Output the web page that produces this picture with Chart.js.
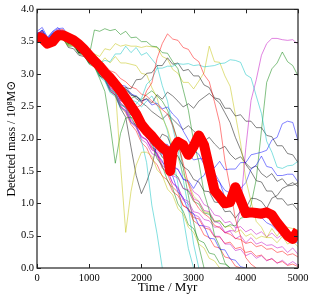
<!DOCTYPE html>
<html>
<head>
<meta charset="utf-8">
<script src="https://cdn.jsdelivr.net/npm/chart.js@4.4.1/dist/chart.umd.min.js"></script>
<style>
  html, body { margin: 0; padding: 0; background: #fff; }
</style>
</head>
<body>
<canvas id="massChart" width="314" height="300"></canvas>
<script>
// time grid (Myr) shared by the thin runs
const times = [0,100,200,300,400,500,600,700,800,900,1000,
  1100,1200,1300,1400,1500,1600,1700,1800,1900,2000,
  2100,2200,2300,2400,2500,2600,2700,2800,2900,3000,
  3100,3200,3300,3400,3500,3600,3700,3800,3900,4000,
  4100,4200,4300,4400,4500,4600,4700,4800,4900,5000];

// thick red mean line
const redTimes = [0,100,200,300,400,500,600,700,800,900,1000,
  1100,1200,1300,1400,1500,1600,1700,1800,1900,2000,
  2100,2200,2300,2400,2500,2550,2600,2700,2800,2900,3000,
  3100,3200,3300,3400,3500,3600,3700,3800,3900,4000,
  4100,4200,4300,4400,4500,4600,4700,4800,4900,5000];
const redMass = [3.58,3.55,3.47,3.50,3.60,3.60,3.56,3.52,3.46,3.38,3.29,
  3.20,3.12,3.02,2.94,2.84,2.74,2.62,2.50,2.38,2.22,
  2.12,2.04,1.94,1.86,1.80,1.50,1.82,1.95,1.90,1.75,1.88,
  2.05,1.90,1.55,1.20,1.10,1.00,1.02,1.25,1.05,0.85,
  0.86,0.85,0.84,0.86,0.82,0.70,0.60,0.50,0.45,0.58];

// individual runs (10^8 Msun), one value per entry of times
const runB1 = [3.62,3.68,3.55,3.66,3.72,3.63,3.62,3.52,3.53,3.39,3.36,
  3.19,3.17,3.01,2.99,2.82,2.78,2.58,2.51,2.29,2.23,
  2.01,1.96,1.74,1.66,1.46,1.42,1.18,1.09,0.88,0.84,
  0.66,0.65,0.46,0.45,0.29,0.28,0.14,0.12,0.02,0.00,
  null,null,null,null,null,null,null,null,null,null];
const runG1 = [3.55,3.62,3.47,3.55,3.60,3.61,3.47,3.46,3.37,3.36,3.28,
  3.68,3.66,3.70,3.67,3.69,3.61,3.66,3.56,3.57,3.50,
  3.50,3.43,3.42,3.33,3.32,3.19,3.08,2.76,2.44,1.96,
  1.64,1.16,0.89,0.51,0.33,0.08,0.00,null,null,null,
  null,null,null,null,null,null,null,null,null,null];
const runR1 = [3.60,3.66,3.52,3.61,3.66,3.64,3.52,3.50,3.39,3.37,3.21,
  3.17,3.02,2.98,2.82,2.77,2.59,2.53,2.37,2.48,2.52,
  2.74,2.86,3.24,3.47,3.62,3.54,3.52,3.41,3.38,3.25,
  3.19,2.99,2.88,2.57,2.24,1.66,1.24,0.76,0.49,0.16,
  0.06,0.00,null,null,null,null,null,null,null,null];
const runC1 = [3.58,3.64,3.49,3.59,3.62,3.62,3.49,3.48,3.35,3.33,3.19,
  3.15,2.99,2.93,2.75,2.71,2.52,2.48,2.37,2.54,2.62,
  2.84,2.92,3.09,3.09,3.12,3.12,3.16,3.15,3.16,3.13,
  3.14,3.11,3.12,3.13,3.16,3.17,3.22,3.21,3.18,2.99,
  2.94,2.66,2.39,1.96,1.79,1.56,1.54,1.58,1.59,1.65];
const runM1 = [3.56,3.62,3.47,3.58,3.64,3.66,3.55,3.53,3.41,3.39,3.23,
  3.19,3.03,2.97,2.79,2.73,2.55,2.47,2.27,2.19,2.02,
  1.98,1.83,1.79,1.63,1.58,1.43,1.39,1.23,1.21,1.07,
  1.03,0.89,0.87,0.72,0.69,0.55,0.58,0.57,0.94,1.86,
  2.59,2.91,3.29,3.47,3.55,3.55,3.53,3.52,3.53,3.46];
const runY1 = [3.52,3.58,3.43,3.53,3.58,3.59,3.47,3.48,3.37,3.35,3.19,
  3.15,2.99,2.95,2.81,2.79,1.60,0.55,1.18,1.59,1.79,
  1.79,1.73,1.52,1.43,1.22,1.13,0.92,0.83,0.63,0.55,
  0.37,0.31,0.15,0.11,0.00,null,null,null,null,null,
  null,null,null,null,null,null,null,null,null,null];
const runK1 = [3.60,3.60,3.47,3.57,3.60,3.61,3.49,3.47,3.33,3.33,3.19,
  3.17,3.03,3.01,2.89,2.89,2.77,2.79,2.77,2.91,2.92,
  3.01,3.02,3.13,3.13,3.25,3.15,3.17,3.05,3.07,2.97,
  2.97,2.83,2.79,2.63,2.61,2.47,2.47,2.35,2.37,2.27,
  2.27,2.17,2.17,2.05,2.03,1.89,1.89,1.77,1.75,1.63];
const runB2 = [3.64,3.64,3.51,3.63,3.64,3.65,3.53,3.53,3.39,3.37,3.23,
  3.21,3.05,3.01,2.83,2.77,2.59,2.55,2.37,2.33,2.19,
  2.18,2.05,2.03,1.92,1.91,1.79,1.89,1.77,1.77,1.67,
  1.69,1.69,1.68,1.55,1.65,1.52,1.53,1.53,1.63,1.63,
  1.75,1.77,1.79,1.82,1.98,2.02,2.23,2.27,2.25,1.97];
const runG2 = [3.50,3.56,3.41,3.51,3.54,3.55,3.43,3.43,3.31,3.29,3.15,
  3.11,2.93,2.73,2.22,1.62,2.08,2.32,2.33,2.19,2.15,
  2.02,1.93,1.69,1.58,1.35,1.23,0.99,0.88,0.67,0.61,
  0.43,0.39,0.23,0.21,0.07,0.06,0.00,null,null,null,
  null,null,null,null,null,null,null,null,null,null];
const runR2 = [3.56,3.62,3.49,3.59,3.62,3.65,3.51,3.51,3.39,3.37,3.27,
  3.25,3.15,3.13,3.05,3.02,2.93,2.88,2.80,2.77,2.69,
  2.66,2.58,2.52,2.45,2.38,2.20,1.95,1.62,1.30,1.05,
  0.92,0.84,0.78,0.66,0.62,0.55,0.52,0.46,0.44,0.38,
  0.40,0.33,0.35,0.29,0.30,0.24,0.26,0.20,0.22,0.17];
const runC2 = [3.54,3.60,3.45,3.55,3.60,3.61,3.49,3.49,3.35,3.33,3.17,
  3.13,2.95,2.89,2.71,2.65,2.47,2.43,2.25,2.21,1.97,
  1.63,0.97,0.53,0.00,null,null,null,null,null,null,
  null,null,null,null,null,null,null,null,null,null,
  null,null,null,null,null,null,null,null,null,null];
const runM2 = [3.60,3.64,3.51,3.61,3.62,3.63,3.51,3.51,3.37,3.35,3.21,
  3.17,3.01,2.95,2.77,2.69,2.51,2.43,2.25,2.17,1.99,
  1.93,1.77,1.73,1.55,1.49,1.31,1.25,1.07,1.03,0.87,
  0.85,0.75,0.73,0.63,0.64,0.54,0.57,0.45,0.50,0.39,
  0.47,0.37,0.40,0.35,0.36,0.31,0.33,0.24,0.31,0.21];
const runY2 = [3.48,3.54,3.41,3.49,3.52,3.53,3.43,3.45,3.35,3.35,3.23,
  3.31,3.27,3.39,3.37,3.47,3.43,3.45,3.43,3.43,3.41,
  3.43,3.42,3.41,3.27,3.23,3.07,3.01,2.87,2.87,2.77,
  2.89,3.02,3.43,3.19,3.18,2.97,2.81,2.37,1.93,1.37,
  1.03,0.72,0.63,0.47,0.61,0.49,0.63,0.63,0.61,0.59];
const runK2 = [3.58,3.58,3.45,3.55,3.58,3.59,3.47,3.47,3.33,3.31,3.17,
  3.13,2.97,2.91,2.73,2.67,2.47,2.33,1.87,1.43,1.15,
  1.33,1.57,1.93,2.07,2.03,1.82,1.73,1.57,1.51,1.37,
  1.33,1.19,1.18,1.02,1.01,0.87,0.88,0.77,0.88,0.92,
  1.08,1.07,1.03,0.92,1.08,1.12,1.23,1.27,1.28,1.32];
const runB3 = [3.66,3.72,3.57,3.65,3.70,3.71,3.59,3.59,3.45,3.43,3.29,
  3.25,3.09,3.03,2.85,2.79,2.61,2.55,2.37,2.31,2.13,
  2.07,1.91,1.89,1.75,1.73,1.57,1.53,1.37,1.35,1.23,
  1.37,1.43,1.61,1.47,1.33,1.09,1.03,1.05,1.23,1.32,
  1.53,1.59,1.73,1.57,1.55,1.43,1.43,1.45,1.45,1.33];
const runG3 = [3.52,3.58,3.43,3.53,3.56,3.57,3.45,3.45,3.33,3.31,3.17,
  3.13,2.97,2.93,2.77,2.71,2.53,2.49,2.33,2.29,2.13,
  2.09,1.93,1.89,1.71,1.65,1.47,1.41,1.23,1.19,1.03,
  0.99,0.85,0.83,0.71,0.73,0.63,0.67,0.65,0.77,0.79,
  0.98,1.37,2.13,2.87,3.08,3.17,3.34,3.19,3.13,2.97];
const runR3 = [3.62,3.62,3.49,3.61,3.68,3.69,3.55,3.55,3.43,3.41,3.27,
  3.23,3.07,3.03,2.87,2.83,2.67,2.61,2.43,2.37,2.17,
  2.08,1.87,1.77,1.55,1.45,1.25,1.17,0.97,0.91,0.73,
  0.67,0.51,0.47,0.33,0.31,0.17,0.15,0.03,0.00,null,
  null,null,null,null,null,null,null,null,null,null];
const runC3 = [3.60,3.68,3.53,3.63,3.66,3.65,3.53,3.53,3.41,3.41,3.29,
  3.29,3.17,3.21,3.19,3.31,3.31,3.43,3.33,3.41,3.29,
  3.33,3.23,3.13,2.82,2.58,2.17,1.83,1.37,0.93,0.37,
  0.00,null,null,null,null,null,null,null,null,null,
  null,null,null,null,null,null,null,null,null,null];
const runM3 = [3.58,3.66,3.53,3.61,3.64,3.65,3.53,3.53,3.39,3.37,3.21,
  3.17,2.99,2.93,2.75,2.67,2.49,2.43,2.25,2.19,2.03,
  1.99,1.83,1.77,1.59,1.51,1.31,1.23,1.05,0.99,0.83,
  0.79,0.65,0.63,0.49,0.49,0.37,0.37,0.27,0.29,0.19,
  0.23,0.15,0.19,0.11,0.15,0.07,0.12,0.05,0.10,0.04];
const runY3 = [3.50,3.56,3.43,3.53,3.56,3.57,3.45,3.45,3.33,3.33,3.19,
  3.19,3.15,3.25,3.17,3.27,3.17,3.17,3.15,3.13,3.01,
  2.99,2.79,2.63,2.33,2.15,1.87,1.71,1.45,1.33,1.11,
  1.03,0.87,0.85,0.73,0.73,0.63,0.65,0.55,0.59,0.49,
  0.53,0.45,0.49,0.47,0.47,0.39,0.49,0.37,0.41,0.33];
const runK3 = [3.60,3.56,3.43,3.53,3.56,3.55,3.41,3.39,3.29,3.27,3.17,
  3.15,3.05,3.01,2.93,2.89,2.79,2.77,2.67,2.65,2.58,
  2.62,2.55,2.68,2.61,2.72,2.66,2.58,2.49,2.54,2.47,
  2.58,2.64,2.70,2.62,2.55,2.40,2.25,2.02,1.83,1.60,
  1.49,1.35,1.33,1.19,1.19,1.07,1.07,0.97,0.99,0.89];
const runC4 = [3.56,3.62,3.47,3.57,3.60,3.61,3.47,3.47,3.33,3.31,3.21,
  3.17,3.05,3.01,2.91,2.87,2.75,2.71,2.60,2.57,2.49,
  2.58,2.66,2.52,2.36,2.12,1.74,1.30,0.78,0.30,0.00,
  null,null,null,null,null,null,null,null,null,null,
  null,null,null,null,null,null,null,null,null,null];
const runB4 = [3.60,3.68,3.55,3.63,3.68,3.67,3.55,3.55,3.41,3.39,3.31,
  3.27,3.15,3.11,3.01,2.95,2.83,2.81,2.69,2.66,2.58,
  2.61,2.52,2.55,2.46,2.49,2.38,2.30,2.12,1.98,1.82,
  1.76,1.60,1.55,1.40,1.32,1.20,1.16,1.04,1.01,0.92,
  0.90,0.80,0.78,0.70,0.66,0.58,0.55,0.46,0.44,0.38];
const runR4 = [3.58,3.63,3.50,3.59,3.67,3.62,3.54,3.50,3.40,3.36,3.22,
  3.16,3.00,2.94,2.76,2.68,2.50,2.40,2.22,2.12,1.94,
  1.86,1.68,1.60,1.42,1.36,1.18,1.12,0.96,0.92,0.78,
  0.76,0.62,0.60,0.48,0.48,0.38,0.40,0.30,0.32,0.24,
  0.26,0.18,0.20,0.12,0.14,0.08,0.10,0.04,0.06,0.02];
const runM4 = [3.62,3.66,3.53,3.62,3.68,3.64,3.56,3.52,3.42,3.38,3.26,
  3.20,3.04,2.98,2.80,2.72,2.56,2.46,2.30,2.20,2.04,
  1.98,1.86,1.82,1.72,1.68,1.56,1.52,1.38,1.32,1.18,
  1.12,0.98,0.94,0.82,0.80,0.70,0.72,0.62,0.64,0.56,
  0.60,0.52,0.56,0.48,0.54,0.46,0.52,0.44,0.50,0.46];
const runG4 = [3.54,3.58,3.46,3.54,3.60,3.58,3.48,3.46,3.36,3.32,3.24,
  3.18,3.08,3.02,2.93,2.82,2.74,2.70,2.62,2.66,2.60,
  2.68,2.74,2.66,2.58,2.44,2.22,1.96,1.55,1.12,0.70,
  0.34,0.00,null,null,null,null,null,null,null,null,
  null,null,null,null,null,null,null,null,null,null];
const runK4 = [3.58,3.62,3.50,3.56,3.64,3.60,3.50,3.46,3.38,3.34,3.26,
  3.20,3.12,3.06,2.98,2.90,2.84,2.76,2.70,2.62,2.56,
  2.50,2.42,2.36,2.30,2.38,2.30,2.22,2.14,2.20,2.12,
  2.04,1.96,2.02,1.92,1.84,1.88,1.76,1.68,1.72,1.62,
  1.54,1.58,1.46,1.40,1.46,1.34,1.38,1.28,1.32,1.26];

const runs = [runB1, runG1, runR1, runC1, runM1, runY1, runK1,
              runB2, runG2, runR2, runC2, runM2, runY2, runK2,
              runB3, runG3, runR3, runC3, runM3, runY3, runK3,
              runC4, runB4, runR4, runM4, runG4, runK4];
const runKeys = ['b','g','r','c','m','y','k',
                 'b','g','r','c','m','y','k',
                 'b','g','r','c','m','y','k',
                 'c','b','r','m','g','k'];

// matplotlib classic colours
const colorOf = { b: '0,0,255', g: '0,128,0', r: '255,0,0', c: '0,191,191',
                  m: '191,0,191', y: '191,191,0', k: '0,0,0' };

const xTicks = [0, 1000, 2000, 3000, 4000, 5000];
const yTicks = [0, 0.5, 1.0, 1.5, 2.0, 2.5, 3.0, 3.5, 4.0];

const serif = "'Liberation Serif', 'DejaVu Serif', serif";

// frame with inward ticks on all four sides
const frameTicks = {
    id: 'frameTicks',
    afterDraw(chart) {
        const { ctx, chartArea: a, scales: { x, y } } = chart;
        ctx.save();
        ctx.strokeStyle = '#222';
        ctx.lineWidth = 1.2;
        ctx.strokeRect(a.left, a.top, a.right - a.left, a.bottom - a.top);
        ctx.beginPath();
        xTicks.forEach(v => {
            const px = Math.round(x.getPixelForValue(v)) + 0.5;
            ctx.moveTo(px, a.bottom); ctx.lineTo(px, a.bottom - 4);
            ctx.moveTo(px, a.top); ctx.lineTo(px, a.top + 4);
        });
        yTicks.forEach(v => {
            const py = Math.round(y.getPixelForValue(v)) + 0.5;
            ctx.moveTo(a.left, py); ctx.lineTo(a.left + 4, py);
            ctx.moveTo(a.right, py); ctx.lineTo(a.right - 4, py);
        });
        ctx.lineWidth = 1;
        ctx.stroke();
        ctx.restore();
    }
};

const datasets = [{
    label: 'mean',
    data: redTimes.map((t, i) => ({ x: t, y: redMass[i] })),
    borderColor: '#ff0000',
    borderWidth: 10,
    borderJoinStyle: 'round',
    pointRadius: 0,
    tension: 0,
    order: 0
}];
runs.forEach((r, i) => {
    datasets.push({
        label: 'run ' + (i + 1),
        data: times.map((t, j) => ({ x: t, y: r[j] })),
        borderColor: 'rgba(' + colorOf[runKeys[i]] + ',0.55)',
        borderWidth: 0.9,
        pointRadius: 0,
        tension: 0,
        spanGaps: false,
        order: 1
    });
});

new Chart(document.getElementById('massChart'), {
    type: 'line',
    data: { datasets },
    options: {
        responsive: false,
        animation: false,
        layout: { padding: { left: 0, top: 9, right: 16, bottom: 0 } },
        plugins: { legend: { display: false }, tooltip: { enabled: false } },
        scales: {
            x: {
                type: 'linear',
                min: 0, max: 5000,
                grid: { display: false, drawTicks: false },
                border: { display: false },
                afterFit(scale) { scale.height = 32; },
                afterBuildTicks(scale) { scale.ticks = xTicks.map(v => ({ value: v })); },
                ticks: {
                    color: '#000', padding: 4, maxRotation: 0, autoSkip: false,
                    font: { family: serif, size: 10.5 },
                    callback: v => String(v)
                },
                title: {
                    display: true, text: 'Time / Myr', color: '#000',
                    font: { family: serif, size: 13 }, padding: { top: 0, bottom: 5 }
                }
            },
            y: {
                min: 0, max: 4,
                grid: { display: false, drawTicks: false },
                border: { display: false },
                afterFit(scale) { scale.width = 37; },
                afterBuildTicks(scale) { scale.ticks = yTicks.map(v => ({ value: v })); },
                ticks: {
                    color: '#000', padding: 3,
                    font: { family: serif, size: 10.5 },
                    callback: v => v.toFixed(1)
                },
                title: {
                    display: true, text: 'Detected mass / 10⁸M⊙', color: '#000',
                    font: { family: serif, size: 12 }, padding: { top: 5, bottom: 0 }
                }
            }
        }
    },
    plugins: [frameTicks]
});
</script>
</body>
</html>
